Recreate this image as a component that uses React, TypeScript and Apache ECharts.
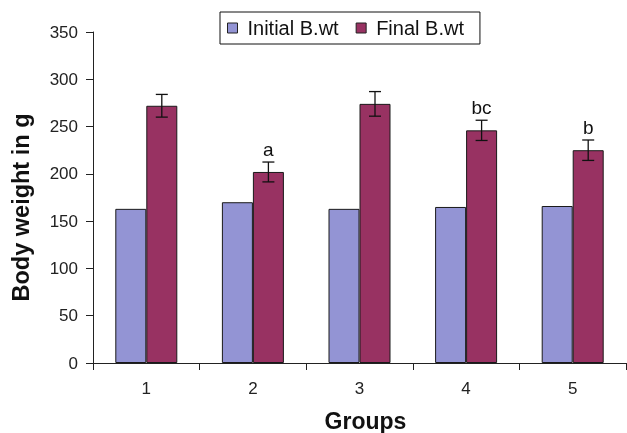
import React, { useEffect, useRef } from "react";
import * as echarts from "echarts";

const groups = ["1", "2", "3", "4", "5"];
const initialBwt = [163, 170, 163, 165, 166];
const finalBwt = [272, 202, 274, 246, 225];
const finalErr = [12, 10.5, 13, 10.7, 10.8];
const sigLetters = ["", "a", "", "bc", "b"];

export default function App() {
  const ref = useRef<HTMLDivElement>(null);
  useEffect(() => {
    const chart = echarts.init(ref.current!, null, { renderer: "svg" });
    const font = "'Liberation Sans', Arial, sans-serif";
    const barW = 31;
    chart.setOption({
      animation: false,
      textStyle: { fontFamily: font },
      legend: {
        data: ["Initial B.wt", "Final B.wt"],
        left: 220,
        top: 12,
        padding: [5, 16, 5, 7],
        itemGap: 17,
        itemWidth: 10,
        itemHeight: 10,
        borderColor: "#111",
        borderWidth: 1,
        icon: "rect",
        itemStyle: { borderColor: "#222", borderWidth: 1 },
        textStyle: {
          fontFamily: font,
          fontSize: 20,
          color: "#111",
          lineHeight: 22,
          padding: [0, 0, 0, 5],
        },
      },
      grid: { left: 93, top: 32, right: 1, bottom: 70, outerBoundsMode: "none", containLabel: false },
      xAxis: {
        type: "category",
        data: groups,
        name: "Groups",
        nameLocation: "middle",
        nameGap: 46,
        nameTextStyle: { fontFamily: font, fontSize: 23, fontWeight: "bold", color: "#111", padding: [0, 0, 0, 12] },
        axisLine: { lineStyle: { color: "#222", width: 1 } },
        axisTick: { show: true, length: 7, alignWithLabel: false, lineStyle: { color: "#222" } },
        axisLabel: { fontFamily: font, fontSize: 17, color: "#222", margin: 17 },
      },
      yAxis: {
        type: "value",
        min: 0,
        max: 350,
        interval: 50,
        name: "Body weight in g",
        nameLocation: "middle",
        nameGap: 60,
        nameTextStyle: { fontFamily: font, fontSize: 23.5, fontWeight: "bold", color: "#111", padding: [0, 20, 0, 0] },
        axisLine: { show: true, lineStyle: { color: "#222", width: 1 } },
        axisTick: { show: true, length: 7, lineStyle: { color: "#222" } },
        axisLabel: { fontFamily: font, fontSize: 17, color: "#222", margin: 15 },
        splitLine: { show: false },
      },
      series: [
        {
          name: "Initial B.wt",
          type: "bar",
          data: initialBwt,
          barWidth: barW,
          barGap: "0%",
          itemStyle: { color: "#9394d4", borderColor: "#1a1a1a", borderWidth: 1 },
        },
        {
          name: "Final B.wt",
          type: "bar",
          data: finalBwt,
          barWidth: barW,
          barGap: "0%",
          itemStyle: { color: "#983262", borderColor: "#1a1a1a", borderWidth: 1 },
        },
        {
          type: "custom",
          name: "err",
          data: finalBwt.map((v, i) => [i, v, finalErr[i]]),
          z: 10,
          renderItem: (params: any, api: any) => {
            const i = api.value(0);
            const v = api.value(1);
            const e = api.value(2);
            const letter = sigLetters[i];
            const top = api.coord([i, v + e]);
            const bot = api.coord([i, v - e]);
            const x = top[0] + barW / 2;
            const cap = 6;
            const style = { stroke: "#111", lineWidth: 1.3 };
            const children: any[] = [
              { type: "line", shape: { x1: x, y1: top[1], x2: x, y2: bot[1] }, style },
              { type: "line", shape: { x1: x - cap, y1: top[1], x2: x + cap, y2: top[1] }, style },
              { type: "line", shape: { x1: x - cap, y1: bot[1], x2: x + cap, y2: bot[1] }, style },
            ];
            if (letter) {
              children.push({
                type: "text",
                style: {
                  x: x,
                  y: top[1] - 3,
                  text: letter,
                  fill: "#111",
                  font: `19px ${font}`,
                  textAlign: "center",
                  textVerticalAlign: "bottom",
                },
              });
            }
            return { type: "group", children };
          },
        },
      ],
    });
    return () => chart.dispose();
  }, []);
  return (
    <div
      ref={ref}
      style={{ position: "fixed", left: 0, top: 0, width: 627, height: 433 }}
    />
  );
}
